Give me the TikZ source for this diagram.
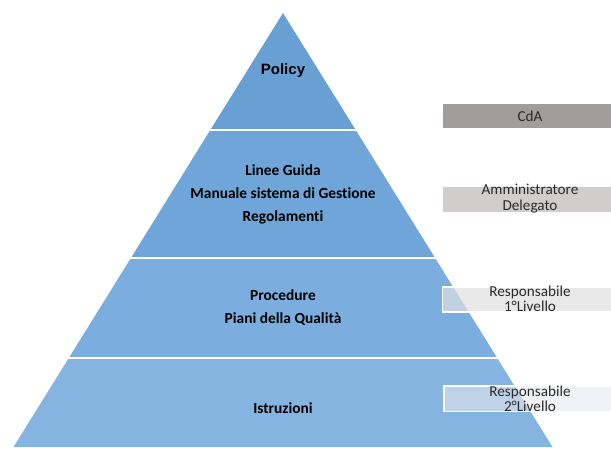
\documentclass[tikz,border=0pt]{standalone}
\usepackage{fontspec}
\setmainfont[Ligatures=NoCommon]{Carlito}
\newfontfamily\arialf{Liberation Sans}
\definecolor{bandA}{HTML}{69A0D4}
\definecolor{bandB}{HTML}{6FA5D8}
\definecolor{bandC}{HTML}{7BAEDE}
\definecolor{bandD}{HTML}{86B4E0}
\definecolor{cdagray}{HTML}{A09D9C}
\definecolor{adgray}{HTML}{D0CDCC}
\definecolor{r1gray}{HTML}{E0E0E0}
\definecolor{r2gray}{HTML}{E6E9EE}
\definecolor{txtgray}{HTML}{2A2A2A}
\tikzset{
  band/.style={draw=white, line width=1.5pt, line join=miter},
  plabel/.style={font=\fontsize{15.4}{23}\selectfont\bfseries, text=black, align=center, inner sep=0pt},
  rbox/.style={draw=none, inner sep=0pt},
  rtext/.style={font=\fontsize{15.2}{15.5}\selectfont, text=txtgray, align=center, inner sep=0pt}
}
\begin{document}
\begin{tikzpicture}[x=1pt,y=-1pt]
\useasboundingbox (0,0) rectangle (611,450);
% pyramid bands
\fill[bandA] (283,13) -- (355.7,130) -- (210.3,130) -- cycle;
\fill[bandB] (210.3,130) -- (355.7,130) -- (435.1,258) -- (130.9,258) -- cycle;
\fill[bandC] (130.9,258) -- (435.1,258) -- (497.2,358) -- (68.8,358) -- cycle;
\fill[bandD] (68.8,358) -- (497.2,358) -- (552.5,447) -- (13.5,447) -- cycle;
\draw[white, line width=1.6pt] (205,130) -- (361,130);
\draw[white, line width=1.6pt] (125,258) -- (441,258);
\draw[white, line width=1.6pt] (63,358) -- (503,358);
% labels
\node[plabel, font=\arialf\fontsize{15}{16}\selectfont\bfseries] (policy) at (283,71) {Policy};
\node[plabel] (linee) at (283,194) {Linee Guida\\Manuale sistema di Gestione\\Regolamenti};
\node[plabel] (proc) at (283,307.5) {Procedure\\Piani della Qualità};
\node[plabel] (istr) at (283,408) {Istruzioni};
% right boxes
\fill[cdagray] (443,104) rectangle (611,128);
\node[rtext] (cda) at (530,116) {CdA};
\fill[adgray] (443,187) rectangle (611,212);
\node[rtext] (ad) at (530,198.5) {Amministratore\\Delegato};
\filldraw[fill=r1gray, fill opacity=0.7, draw=white, line width=1.2pt] (442.5,287) rectangle (612,312);
\node[rtext] (r1) at (530,299) {Responsabile\\1°Livello};
\filldraw[fill=r2gray, fill opacity=0.6, draw=white, line width=1.2pt] (444,386) rectangle (612,411.5);
\node[rtext] (r2) at (530,399) {Responsabile\\2°Livello};
\end{tikzpicture}
\end{document}
